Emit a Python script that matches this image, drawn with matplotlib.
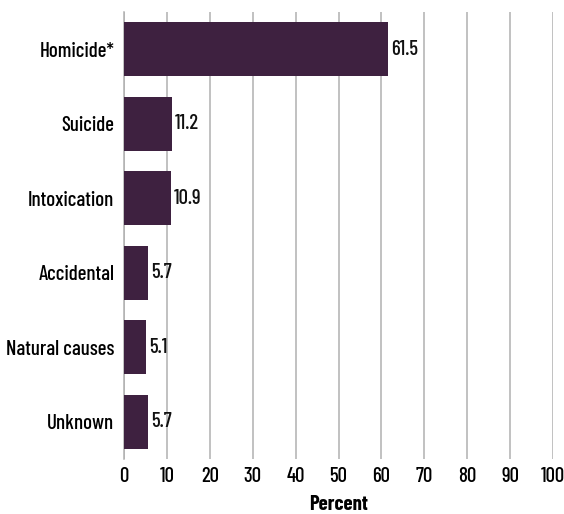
import matplotlib
matplotlib.use("Agg")
import matplotlib.pyplot as plt

categories = ["Homicide*", "Suicide", "Intoxication", "Accidental", "Natural causes", "Unknown"]
values = [61.5, 11.2, 10.9, 5.7, 5.1, 5.7]
xticks = [0, 10, 20, 30, 40, 50, 60, 70, 80, 90, 100]

plt.rcParams['font.family'] = ['Barlow Condensed', 'Asap Condensed', 'DejaVu Sans']
plt.rcParams['font.weight'] = 500
FS = 15

fig = plt.figure(figsize=(5.64, 5.14), dpi=100)
ax = fig.add_axes([124/564, 1-459/514, (553-124)/564, (459-12)/514])

y = list(range(len(categories)))
ax.barh(y, values, height=0.72, color="#3e2140", zorder=3)
for yi, v in zip(y, values):
    ax.text(v + 0.7, yi, f"{v}", va="center", ha="left", fontsize=FS, color="#111111")

ax.set_xlim(0, 100)
ax.set_ylim(len(categories) - 0.5, -0.5)
ax.set_yticks(y)
ax.set_yticklabels(categories, fontsize=FS)
ax.set_xticks(xticks)
ax.set_xticklabels([str(t) for t in xticks], fontsize=FS)
ax.tick_params(axis="both", length=0, pad=6)
ax.tick_params(axis="y", pad=7)
ax.xaxis.grid(True, color="#b0b0b0", linewidth=1.1, zorder=0)
for s in ["top", "right", "bottom"]:
    ax.spines[s].set_visible(False)
ax.spines["left"].set_color("#b0b0b0")
ax.spines["left"].set_linewidth(1.1)
ax.set_xlabel("Percent", fontsize=FS, fontweight="bold", labelpad=6)

fig.savefig("out.png", dpi=100)
